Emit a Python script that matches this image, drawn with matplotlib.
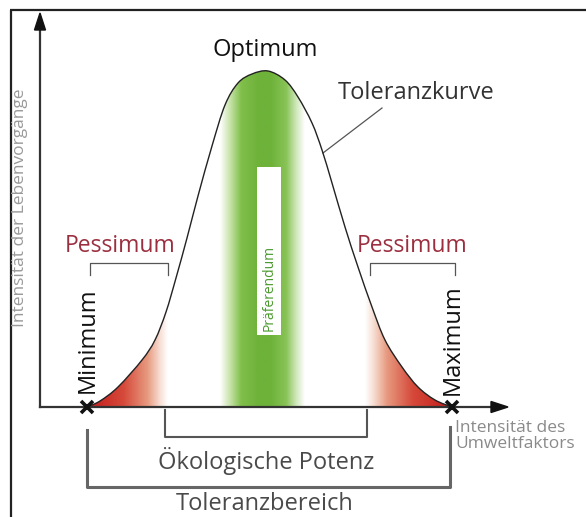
import numpy as np
import matplotlib
matplotlib.use("Agg")
import matplotlib.pyplot as plt
from matplotlib.colors import LinearSegmentedColormap
from matplotlib.patches import Polygon, PathPatch
from matplotlib.path import Path

# ---- data (pixel-space diagram) ----
curve_x = [87, 100, 118, 142, 155, 166, 176, 187, 198, 212, 225, 238, 252, 268,
           285, 298, 312, 322, 332, 345, 358, 372, 385, 402, 418, 435, 452]
curve_y = [407, 401, 387, 360, 340, 312, 278, 238, 196, 146, 105, 83, 74, 71,
           80, 97, 123, 150, 183, 227, 267, 307, 340, 367, 387, 400, 407]
minimum_x, maximum_x, axis_y = 87, 452, 407
oekologische_potenz = (165, 367)
pessimum_left = (90, 168)
pessimum_right = (370, 455)
praeferendum_band = (220, 305)
praeferendum_box = (257, 281, 167, 335)

labels = {
    "optimum": "Optimum",
    "kurve": "Toleranzkurve",
    "pess": "Pessimum",
    "min": "Minimum",
    "max": "Maximum",
    "pref": "Präferendum",
    "potenz": "Ökologische Potenz",
    "bereich": "Toleranzbereich",
    "xlab": "Intensität des\nUmweltfaktors",
    "ylab": "Intensität der Lebenvorgänge",
}

plt.rcParams['font.family'] = ['Open Sans', 'DejaVu Sans']

fig = plt.figure(figsize=(5.86, 5.17), dpi=100)
ax = fig.add_axes([0, 0, 1, 1])
ax.set_xlim(0, 586)
ax.set_ylim(517, 0)
ax.axis('off')


def smooth_path(xs, ys, close_base=False):
    """Catmull-Rom through the read points, drawn as Bezier segments."""
    pts = np.column_stack([xs, ys]).astype(float)
    verts = [tuple(pts[0])]
    codes = [Path.MOVETO]
    n = len(pts)
    for i in range(n - 1):
        p0 = pts[i - 1] if i > 0 else pts[i]
        p1 = pts[i]
        p2 = pts[i + 1]
        p3 = pts[i + 2] if i + 2 < n else pts[i + 1]
        c1 = p1 + (p2 - p0) / 6.0
        c2 = p2 - (p3 - p1) / 6.0
        verts += [tuple(c1), tuple(c2), tuple(p2)]
        codes += [Path.CURVE4] * 3
    if close_base:
        verts += [(xs[0], ys[0]), (xs[0], ys[0])]
        codes += [Path.LINETO, Path.CLOSEPOLY]
    return Path(verts, codes)


# frame
ax.plot([10.5, 10.5], [10, 517], color='#222222', lw=1.6, solid_capstyle='butt')
ax.plot([10, 586], [10, 10], color='#222222', lw=1.6, solid_capstyle='butt')

# clip region under the curve
clip = PathPatch(smooth_path(curve_x, curve_y, close_base=True), facecolor='none', edgecolor='none')
ax.add_patch(clip)

grad = np.linspace(0, 1, 256).reshape(1, -1)
green_cmap = LinearSegmentedColormap.from_list('g', [
    (0.0, '#ffffff'), (0.12, '#c6e2a8'), (0.25, '#80bf4a'), (0.45, '#6eb23a'),
    (0.6, '#6eb23a'), (0.78, '#88c356'), (0.9, '#d0e8bc'), (1.0, '#ffffff')])
im = ax.imshow(grad, cmap=green_cmap, extent=(praeferendum_band[0], praeferendum_band[1], axis_y, 60),
               aspect='auto', interpolation='bilinear', zorder=1)
im.set_clip_path(clip)

red_cmap = LinearSegmentedColormap.from_list('r', [
    (0.0, '#c21a1a'), (0.45, '#d5493a'), (0.75, '#e79a80'), (0.9, '#f7ddd2'), (1.0, '#ffffff')])
imL = ax.imshow(grad, cmap=red_cmap, extent=(minimum_x, pessimum_left[1], axis_y, 250),
                aspect='auto', interpolation='bilinear', zorder=1)
imL.set_clip_path(clip)
imR = ax.imshow(grad[:, ::-1], cmap=red_cmap, extent=(pessimum_right[0] - 5, maximum_x, axis_y, 250),
                aspect='auto', interpolation='bilinear', zorder=1)
imR.set_clip_path(clip)
ax.set_xlim(0, 586)
ax.set_ylim(517, 0)

# Präferendum white box
bx0, bx1, by0, by1 = praeferendum_box
ax.add_patch(plt.Rectangle((bx0, by0), bx1 - bx0, by1 - by0, facecolor='white',
                           edgecolor='none', zorder=2))
ax.text((bx0 + bx1) / 2, 288, labels["pref"], rotation=90, ha='center', va='center',
        fontsize=10, color='#4a9a2e', zorder=3)

# curve
ax.add_patch(PathPatch(smooth_path(curve_x, curve_y), facecolor='none',
                       edgecolor='#222222', lw=1.0, zorder=4))

# axes arrows
ax.plot([40, 40], [axis_y, 26], color='#333333', lw=1.6, zorder=5)
ax.add_patch(Polygon([(40, 13), (34.5, 30), (45.5, 30)], closed=True, color='#111111', zorder=5))
ax.plot([40, 494], [axis_y, axis_y], color='#333333', lw=1.6, zorder=5)
ax.add_patch(Polygon([(508, axis_y), (491, axis_y - 5.5), (491, axis_y + 5.5)], closed=True,
                     color='#111111', zorder=5))

# min / max markers
ax.plot([minimum_x, maximum_x], [axis_y, axis_y], linestyle='none', marker='x',
        markersize=8, mew=2.6, color='#111111', zorder=6)

# Pessimum brackets
for (a, b) in (pessimum_left, pessimum_right):
    ax.plot([a, a, b, b], [275, 263, 263, 275], color='#555555', lw=0.9, zorder=4)
ax.text(120, 246, labels["pess"], ha='center', va='center', fontsize=16.5, color='#9b2f3f')
ax.text(412, 246, labels["pess"], ha='center', va='center', fontsize=16.5, color='#9b2f3f')

# Ökologische Potenz bracket
p0, p1 = oekologische_potenz
ax.plot([p0, p0, p1, p1], [410, 437, 437, 410], color='#555555', lw=1.5, zorder=4)
ax.text((p0 + p1) / 2, 461, labels["potenz"], ha='center', va='center', fontsize=17, color='#4a4a4a')

# Toleranzbereich bracket
ax.plot([minimum_x, minimum_x, maximum_x - 2, maximum_x - 2], [430, 487, 487, 427],
        color='#666666', lw=2.2, zorder=4)
ax.text(265, 504, labels["bereich"], ha='center', va='center', fontsize=17, color='#4a4a4a')

# top labels
ax.text(265, 50, labels["optimum"], ha='center', va='center', fontsize=17, color='#111111')
ax.text(416, 93, labels["kurve"], ha='center', va='center', fontsize=17, color='#333333')
ax.plot([382, 323], [108, 153], color='#555555', lw=0.9)

# Minimum / Maximum
ax.text(minimum_x + 1, 340, labels["min"], rotation=90, ha='center', va='center',
        fontsize=17, color='#111111')
ax.text(maximum_x + 1, 340, labels["max"], rotation=90, ha='center', va='center',
        fontsize=17, color='#111111')

# axis labels
ax.text(455, 436, labels["xlab"], ha='left', va='center', fontsize=12.5, color='#8a8a8a',
        linespacing=0.95)
ax.text(20, 208, labels["ylab"], rotation=90, ha='center', va='center', fontsize=12.5,
        color='#9a9a9a')

fig.savefig('out.png', dpi=100)
